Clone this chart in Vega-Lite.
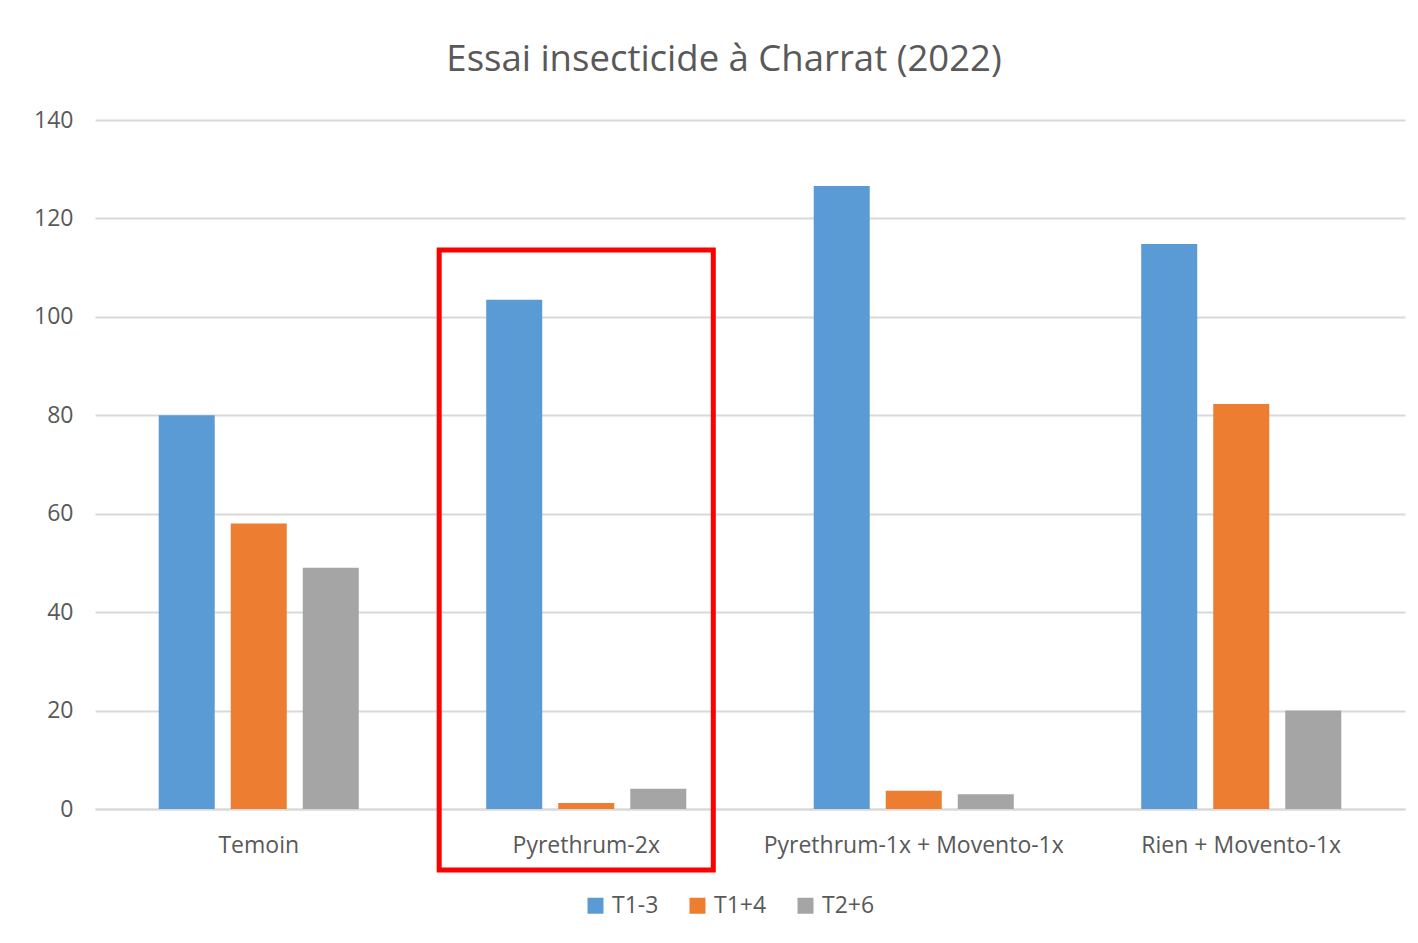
{
  "$schema": "https://vega.github.io/schema/vega-lite/v6.json",
  "width": 1310,
  "height": 689,
  "autosize": {"type": "none"},
  "padding": {"left": 95, "top": 120, "right": 13, "bottom": 134},
  "background": "white",
  "title": {
    "text": "Essai insecticide à Charrat (2022)",
    "font": "Open Sans",
    "fontSize": 36.5,
    "fontWeight": "normal",
    "color": "#595959",
    "anchor": "middle",
    "dx": -26,
    "offset": 31
  },
  "config": {
    "view": {"stroke": null},
    "axis": {"labelFont": "Open Sans", "labelFontSize": 23, "labelColor": "#595959"},
    "legend": {"labelFont": "Open Sans", "labelFontSize": 23, "labelColor": "#595959"}
  },
  "datasets": {
    "bars": [
      {"traitement": "Temoin", "serie": "T1-3", "valeur": 80},
      {"traitement": "Temoin", "serie": "T1+4", "valeur": 58},
      {"traitement": "Temoin", "serie": "T2+6", "valeur": 49},
      {"traitement": "Pyrethrum-2x", "serie": "T1-3", "valeur": 103.5},
      {"traitement": "Pyrethrum-2x", "serie": "T1+4", "valeur": 1.2},
      {"traitement": "Pyrethrum-2x", "serie": "T2+6", "valeur": 4.1},
      {"traitement": "Pyrethrum-1x + Movento-1x", "serie": "T1-3", "valeur": 126.6},
      {"traitement": "Pyrethrum-1x + Movento-1x", "serie": "T1+4", "valeur": 3.7},
      {"traitement": "Pyrethrum-1x + Movento-1x", "serie": "T2+6", "valeur": 3},
      {"traitement": "Rien + Movento-1x", "serie": "T1-3", "valeur": 114.8},
      {"traitement": "Rien + Movento-1x", "serie": "T1+4", "valeur": 82.3},
      {"traitement": "Rien + Movento-1x", "serie": "T2+6", "valeur": 20}
    ],
    "highlight": [
      {"traitement": "Pyrethrum-2x", "haut": 113.6, "bas": -12.4}
    ]
  },
  "layer": [
    {
      "data": {"name": "bars"},
      "mark": {"type": "bar"},
      "encoding": {
        "x": {
          "field": "traitement",
          "type": "nominal",
          "sort": ["Temoin", "Pyrethrum-2x", "Pyrethrum-1x + Movento-1x", "Rien + Movento-1x"],
          "scale": {"domain": ["Temoin", "Pyrethrum-2x", "Pyrethrum-1x + Movento-1x", "Rien + Movento-1x"], "paddingInner": 0.163, "paddingOuter": 0.0815},
          "axis": {
            "title": null,
            "labelAngle": 0,
            "labelLimit": 0,
            "ticks": false,
            "domain": true,
            "domainColor": "#D9D9D9",
            "domainWidth": 2,
            "labelPadding": 25
          }
        },
        "xOffset": {
          "field": "serie",
          "type": "nominal",
          "sort": ["T1-3", "T1+4", "T2+6"],
          "scale": {"paddingInner": 0.222, "paddingOuter": 0.514}
        },
        "y": {
          "field": "valeur",
          "type": "quantitative",
          "scale": {"domain": [0, 140], "nice": false},
          "axis": {
            "title": null,
            "values": [0, 20, 40, 60, 80, 100, 120, 140],
            "ticks": false,
            "domain": false,
            "grid": true,
            "gridColor": "#D9D9D9",
            "gridWidth": 2,
            "labelPadding": 22
          }
        },
        "color": {
          "field": "serie",
          "type": "nominal",
          "sort": ["T1-3", "T1+4", "T2+6"],
          "scale": {"domain": ["T1-3", "T1+4", "T2+6"], "range": ["#5B9BD5", "#ED7D31", "#A5A5A5"]},
          "legend": {
            "title": null,
            "orient": "none",
            "legendX": 489,
            "legendY": 774,
            "direction": "horizontal",
            "symbolType": "square",
            "symbolSize": 256,
            "symbolStrokeWidth": 0,
            "columnPadding": 27,
            "labelOffset": 5
          }
        }
      }
    },
    {
      "data": {"name": "highlight"},
      "mark": {"type": "rect", "fill": null, "fillOpacity": 0, "stroke": "#FF0000", "strokeWidth": 5, "clip": false, "xOffset": -10, "x2Offset": -10},
      "encoding": {
        "x": {"field": "traitement", "type": "nominal", "sort": ["Temoin", "Pyrethrum-2x", "Pyrethrum-1x + Movento-1x", "Rien + Movento-1x"]},
        "y": {"field": "haut", "type": "quantitative"},
        "y2": {"field": "bas"}
      }
    }
  ]
}
